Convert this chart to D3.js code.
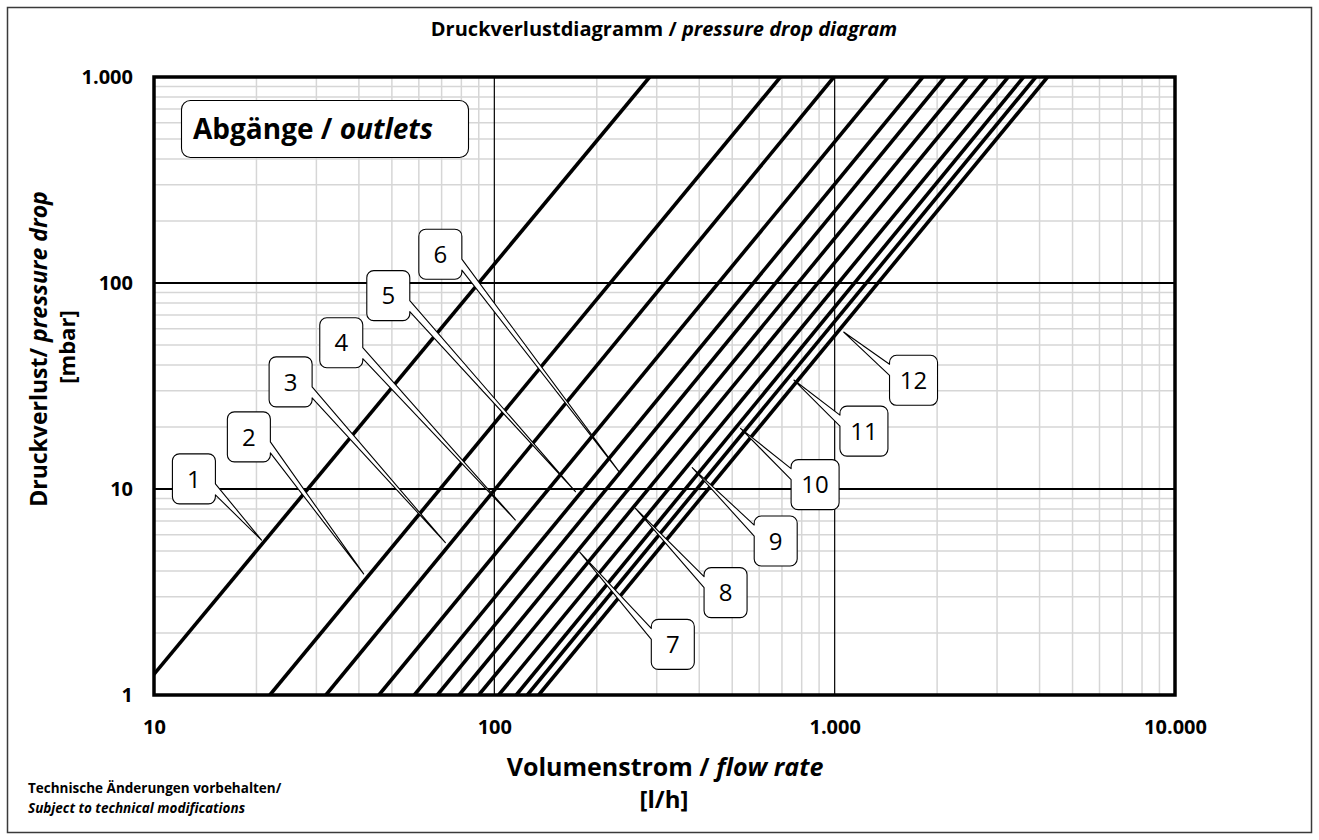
<!DOCTYPE html>
<html>
<head>
<meta charset="utf-8">
<script src="https://cdn.jsdelivr.net/npm/d3@7"></script>
<style>
    body { margin: 0; background: #fff; }
    text { font-family: "Open Sans", "Noto Sans", sans-serif; fill: #000; }
</style>
</head>
<body>
<script>

    // outlet curves: flow [l/h] at 1 mbar and at 1000 mbar
    var outlets    = ["1", "2", "3", "4", "5", "6", "7", "8", "9", "10", "11", "12"];
    var flowAt1    = [8.9, 21.9, 32.0, 45.8, 58.2, 68.0, 78.8, 90.0, 103, 116, 125, 135];
    var flowAt1000 = [286, 693, 995, 1435, 1816, 2106, 2455, 2812, 3235, 3590, 3900, 4222];

    var xTicks = [10, 100, 1000, 10000];
    var yTicks = [1, 10, 100, 1000];

    // callout placement (chart units)
    var callouts = [
        { tip: [20.7, 5.65],  box: [13.1, 11.2],  side: "left"  },
        { tip: [41.3, 3.87],  box: [19.0, 17.9],  side: "left"  },
        { tip: [71.8, 5.49],  box: [25.2, 33.1],  side: "left"  },
        { tip: [115.3, 7.07], box: [35.5, 51.3],  side: "left"  },
        { tip: [173.1, 9.70], box: [48.8, 86.8],  side: "left"  },
        { tip: [233.6, 12.0], box: [69.4, 138],   side: "left"  },
        { tip: [178.2, 4.94], box: [334.5, 1.76], side: "right" },
        { tip: [259.8, 8.06], box: [478, 3.14],   side: "right" },
        { tip: [381.4, 12.7], box: [671, 5.59],   side: "right" },
        { tip: [529, 19.7],   box: [876, 10.5],   side: "right" },
        { tip: [759, 33.8],   box: [1219, 19.1],  side: "right" },
        { tip: [1063, 57.8],  box: [1705, 33.7],  side: "right" }
    ];

    var W = 1319, H = 840,
        plot = { left: 154, right: 1175, top: 77, bottom: 695 };

    var de = d3.formatLocale({ decimal: ",", thousands: ".", grouping: [3], currency: ["", " €"] }),
        fmt = de.format(",d");

    var x = d3.scaleLog().domain([10, 10000]).range([plot.left, plot.right]),
        y = d3.scaleLog().domain([1, 1000]).range([plot.bottom, plot.top]);

    var svg = d3.select("body")
        .append("svg")
        .attr("width", W)
        .attr("height", H);

    svg.append("rect")
        .attr("x", 7.5).attr("y", 7.5)
        .attr("width", W - 15).attr("height", H - 15)
        .attr("fill", "none")
        .attr("stroke", "#3a3a3a")
        .attr("stroke-width", 1.5);

    svg.append("defs")
        .append("clipPath")
        .attr("id", "plotclip")
        .append("rect")
        .attr("x", plot.left).attr("y", plot.top)
        .attr("width", plot.right - plot.left)
        .attr("height", plot.bottom - plot.top);

    // grid
    var grid = svg.append("g");

    grid.selectAll("line.vminor")
        .data(x.ticks().filter(function (d) { return xTicks.indexOf(d) < 0; }))
        .enter()
        .append("line")
        .attr("x1", x).attr("x2", x)
        .attr("y1", plot.top).attr("y2", plot.bottom)
        .attr("stroke", "#d6d6d6")
        .attr("stroke-width", 1.5);

    grid.selectAll("line.hminor")
        .data(y.ticks().filter(function (d) { return yTicks.indexOf(d) < 0; }))
        .enter()
        .append("line")
        .attr("x1", plot.left).attr("x2", plot.right)
        .attr("y1", y).attr("y2", y)
        .attr("stroke", "#d6d6d6")
        .attr("stroke-width", 1.5);

    grid.selectAll("line.vmajor")
        .data(xTicks)
        .enter()
        .append("line")
        .attr("x1", x).attr("x2", x)
        .attr("y1", plot.top).attr("y2", plot.bottom)
        .attr("stroke", "#000")
        .attr("stroke-width", 1.2);

    grid.selectAll("line.hmajor")
        .data(yTicks)
        .enter()
        .append("line")
        .attr("x1", plot.left).attr("x2", plot.right)
        .attr("y1", y).attr("y2", y)
        .attr("stroke", "#000")
        .attr("stroke-width", 2);

    // curves
    var line = d3.line()
        .x(function (d) { return x(d[0]); })
        .y(function (d) { return y(d[1]); });

    svg.append("g")
        .attr("clip-path", "url(#plotclip)")
        .selectAll("path")
        .data(outlets.map(function (id, i) { return [[flowAt1[i], 1], [flowAt1000[i], 1000]]; }))
        .enter()
        .append("path")
        .attr("d", line)
        .attr("fill", "none")
        .attr("stroke", "#000")
        .attr("stroke-width", 3.6);

    // frame
    svg.append("rect")
        .attr("x", plot.left).attr("y", plot.top)
        .attr("width", plot.right - plot.left)
        .attr("height", plot.bottom - plot.top)
        .attr("fill", "none")
        .attr("stroke", "#000")
        .attr("stroke-width", 3.5);

    // axes
    var xAxis = svg.append("g")
        .attr("transform", "translate(0," + (plot.bottom + 32) + ")")
        .call(d3.axisBottom(x).tickValues(xTicks).tickFormat(fmt).tickSize(0).tickPadding(0));

    var yAxis = svg.append("g")
        .attr("transform", "translate(" + (plot.left - 21) + ",0)")
        .call(d3.axisLeft(y).tickValues(yTicks).tickFormat(fmt).tickSize(0).tickPadding(0));

    [xAxis, yAxis].forEach(function (a) {
        a.select(".domain").remove();
        a.selectAll("text")
            .style("font-family", "'Open Sans', sans-serif")
            .style("font-size", "20px")
            .style("font-weight", "bold");
    });
    xAxis.selectAll("text").attr("dy", "0.36em");

    // callouts
    function calloutPath (c, label) {

        var cx = x(c.box[0]), cy = y(c.box[1]),
            w = label.length > 1 ? 48 : 43, h = 50, r = 7,
            x0 = cx - w / 2, x1 = cx + w / 2,
            y0 = cy - h / 2, y1 = cy + h / 2,
            tx = x(c.tip[0]), ty = y(c.tip[1]),
            p = d3.path();

        p.moveTo(x0 + r, y0);
        p.lineTo(x1 - r, y0);
        p.arcTo(x1, y0, x1, y0 + r, r);

        if (c.side === "left") {
            p.lineTo(x1, y1 - 20);
            p.lineTo(tx, ty);
            p.lineTo(x1, y1 - 9);
            p.lineTo(x1, y1 - r);
        } else
            p.lineTo(x1, y1 - r);

        p.arcTo(x1, y1, x1 - r, y1, r);
        p.lineTo(x0 + r, y1);
        p.arcTo(x0, y1, x0, y1 - r, r);

        if (c.side === "right") {
            p.lineTo(x0, y0 + 20);
            p.lineTo(tx, ty);
            p.lineTo(x0, y0 + 9);
            p.lineTo(x0, y0 + r);
        } else
            p.lineTo(x0, y0 + r);

        p.arcTo(x0, y0, x0 + r, y0, r);
        p.closePath();

        return p.toString();
    }

    var co = svg.append("g")
        .selectAll("g")
        .data(callouts)
        .enter()
        .append("g");

    co.append("path")
        .attr("d", function (c, i) { return calloutPath(c, outlets[i]); })
        .attr("fill", "#fff")
        .attr("stroke", "#000")
        .attr("stroke-width", 1.1)
        .attr("stroke-linejoin", "round");

    co.append("text")
        .attr("x", function (c) { return x(c.box[0]); })
        .attr("y", function (c) { return y(c.box[1]); })
        .attr("dy", "0.36em")
        .attr("text-anchor", "middle")
        .style("font-size", "24px")
        .text(function (c, i) { return outlets[i]; });

    // inset label
    svg.append("rect")
        .attr("x", 181.5).attr("y", 100.5)
        .attr("width", 287).attr("height", 57)
        .attr("rx", 9)
        .attr("fill", "#fff")
        .attr("stroke", "#000")
        .attr("stroke-width", 1.1);

    var inset = svg.append("text")
        .attr("x", 193).attr("y", 139)
        .style("font-size", "28px")
        .style("font-weight", "bold");
    inset.append("tspan").text("Abgänge / ");
    inset.append("tspan").style("font-style", "italic").text("outlets");

    // titles
    var title = svg.append("text")
        .attr("x", 664).attr("y", 36)
        .attr("text-anchor", "middle")
        .style("font-size", "20px")
        .style("font-weight", "bold");
    title.append("tspan").text("Druckverlustdiagramm / ");
    title.append("tspan").style("font-style", "italic").text("pressure drop diagram");

    var xt = svg.append("text")
        .attr("x", 665).attr("y", 776)
        .attr("text-anchor", "middle")
        .style("font-size", "25px")
        .style("font-weight", "bold");
    xt.append("tspan").text("Volumenstrom / ");
    xt.append("tspan").style("font-style", "italic").text("flow rate");

    svg.append("text")
        .attr("x", 664).attr("y", 808)
        .attr("text-anchor", "middle")
        .style("font-size", "24px")
        .style("font-weight", "bold")
        .text("[l/h]");

    var yt = svg.append("text")
        .attr("transform", "translate(47,349) rotate(-90)")
        .attr("text-anchor", "middle")
        .style("font-size", "23px")
        .style("font-weight", "bold");
    yt.append("tspan").text("Druckverlust/ ");
    yt.append("tspan").style("font-style", "italic").text("pressure drop");

    svg.append("text")
        .attr("transform", "translate(75,347) rotate(-90)")
        .attr("text-anchor", "middle")
        .style("font-size", "22px")
        .style("font-weight", "bold")
        .text("[mbar]");

    // footer
    svg.append("text")
        .attr("x", 28).attr("y", 793)
        .style("font-size", "13.5px")
        .style("font-weight", "bold")
        .text("Technische Änderungen vorbehalten/");

    svg.append("text")
        .attr("x", 28).attr("y", 813)
        .style("font-size", "13.5px")
        .style("font-weight", "bold")
        .style("font-style", "italic")
        .text("Subject to technical modifications");

</script>
</body>
</html>
